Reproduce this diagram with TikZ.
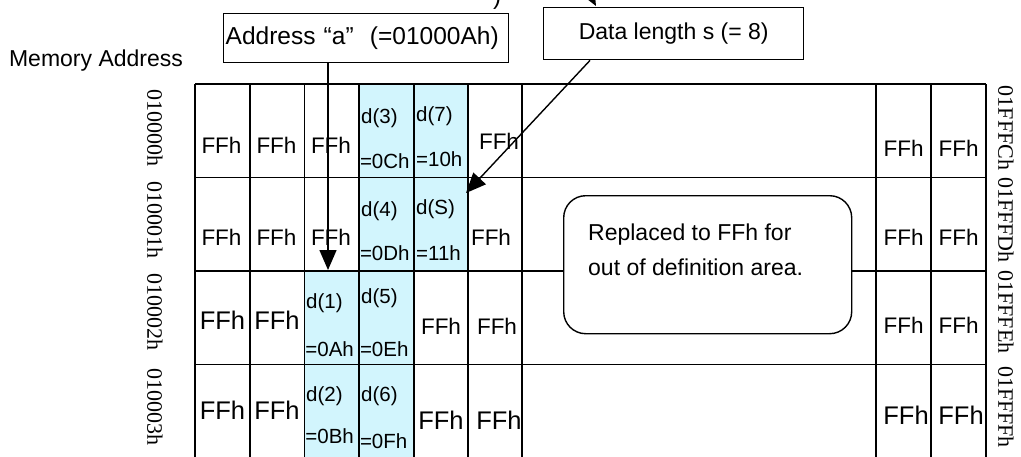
\documentclass[tikz,border=0pt]{standalone}
\usepackage{fontspec}
\setmainfont{Liberation Sans}
\newfontfamily\addrfont{Liberation Serif}
\usetikzlibrary{arrows.meta}
\definecolor{cellblue}{RGB}{210,245,253}
\begin{document}
\begin{tikzpicture}[x=1pt,y=-1pt,
  grid/.style={line width=1.4pt,black},
  ff/.style={inner sep=0pt,font=\fontsize{22.5}{22.5}\selectfont},
  ffbig/.style={inner sep=0pt,font=\fontsize{25.5}{25.5}\selectfont},
  dl/.style={inner sep=0pt,anchor=west,font=\fontsize{20.5}{20.5}\selectfont},
  addr/.style={inner sep=0pt,font=\fontsize{22}{22}\addrfont,rotate=-90},
  box/.style={draw,line width=1.4pt,fill=white},
  arr/.style={line width=1.4pt,-{Triangle[length=20pt,width=17pt]}},
]
\useasboundingbox (0,0) rectangle (1021,456);
\clip (0,0) rectangle (1021,456);

% blue cells
\fill[cellblue] (359,84) rectangle (468,271);
\fill[cellblue] (304.5,271) rectangle (414,458);

% grid
\foreach \x in {195,250,304.5,359,414,468,522,876,931,986}
  \draw[grid] (\x,84) -- (\x,458);
\foreach \y in {84,177.5,271,364.5,458}
  \draw[grid] (195,\y) -- (986,\y);

% heading
\node[inner sep=0pt,font=\fontsize{23}{23}\selectfont] (memaddr) at (96,61) {Memory Address};

% address labels
\node[addr] (l0) at (155,128) {010000h};
\node[addr] (l1) at (155,220) {010001h};
\node[addr] (l2) at (155,312) {010002h};
\node[addr] (l3) at (155,407) {010003h};
\node[addr] (r0) at (1006,128) {01FFFCh};
\node[addr] (r1) at (1006,220) {01FFFDh};
\node[addr] (r2) at (1006,312) {01FFFEh};
\node[addr] (r3) at (1006,407) {01FFFFh};

% row 1
\node[ff] (a1) at (221.5,145) {FFh};
\node[ff] (a2) at (276.5,145) {FFh};
\node[ff] (a3) at (331,145) {FFh};
\node[dl] (d3) at (361,118) {d(3)};
\node[dl] (d3v) at (359.8,161) {=0Ch};
\node[dl] (d7) at (416,116) {d(7)};
\node[dl] (d7v) at (416,159) {=10h};
\node[ff] (a6) at (499,141) {FFh};
\node[ff] (a8) at (903.5,148) {FFh};
\node[ff] (a9) at (958.5,148) {FFh};

% row 2
\node[ff] (b1) at (221.5,237) {FFh};
\node[ff] (b2) at (276.5,237) {FFh};
\node[ff] (b3) at (331,237) {FFh};
\node[dl] (d4) at (361,211) {d(4)};
\node[dl] (d4v) at (359.8,253) {=0Dh};
\node[dl] (ds) at (416,209) {d(S)};
\node[dl] (dsv) at (416,253) {=11h};
\node[ff] (b6) at (491,237) {FFh};
\node[ff] (b8) at (903.5,237) {FFh};
\node[ff] (b9) at (958.5,237) {FFh};

% row 3
\node[ffbig] (c1) at (222.5,320) {FFh};
\node[ffbig] (c2) at (277,320) {FFh};
\node[dl] (d1) at (306,303) {d(1)};
\node[dl] (d1v) at (305.2,349) {=0Ah};
\node[dl] (d5) at (361,298) {d(5)};
\node[dl] (d5v) at (359.8,349) {=0Eh};
\node[ff] (c5) at (441,326) {FFh};
\node[ff] (c6) at (497,326) {FFh};
\node[ff] (c8) at (903.5,325) {FFh};
\node[ff] (c9) at (958.5,325) {FFh};

% row 4
\node[ffbig] (e1) at (222.5,410) {FFh};
\node[ffbig] (e2) at (277,410) {FFh};
\node[dl] (d2) at (306,396) {d(2)};
\node[dl] (d2v) at (305.2,436) {=0Bh};
\node[dl] (d6) at (361,396) {d(6)};
\node[dl] (d6v) at (359.8,441) {=0Fh};
\node[ffbig] (e5) at (441,420) {FFh};
\node[ffbig] (e6) at (499,420) {FFh};
\node[ffbig] (e8) at (906,415) {FFh};
\node[ffbig] (e9) at (961,415) {FFh};

% note box
\node[box,rounded corners=22pt,minimum width=288pt,minimum height=138pt,anchor=north west] (note) at (563,195) {};
\node[inner sep=0pt,anchor=west,align=left,font=\fontsize{23}{35}\selectfont] (notetext) at (588,249.5)
  {Replaced to FFh for\\out of definition area.};

% callout boxes
\node[box,anchor=north west,minimum height=49pt,text width=281pt,inner xsep=2pt,inner ysep=0pt,align=left,
      font=\fontsize{24.5}{24.5}\selectfont] (addrbox) at (223,13) {Address “a”\ \ (=01000Ah)};
\node[box,anchor=north west,minimum width=260pt,minimum height=52pt,inner sep=0pt,
      font=\fontsize{23}{23}\selectfont] (dlbox) at (543,7) {Data length s (= 8)};

% fragments cut by the top edge
\node[inner sep=0pt,anchor=south,font=\fontsize{24}{24}\selectfont] (frag) at (497,10) {)};
\coordinate (fstart) at (560,-60);
\coordinate (ftip) at (596,6);
\draw[arr] (fstart) -- (ftip);

% arrows
\coordinate (atip) at (328,270);
\draw[arr] (addrbox.south -| atip) -- (atip);
\coordinate (dtip) at (466,193);
\draw[arr] ([xshift=47pt]dlbox.south west) -- (dtip);
\end{tikzpicture}
\end{document}
